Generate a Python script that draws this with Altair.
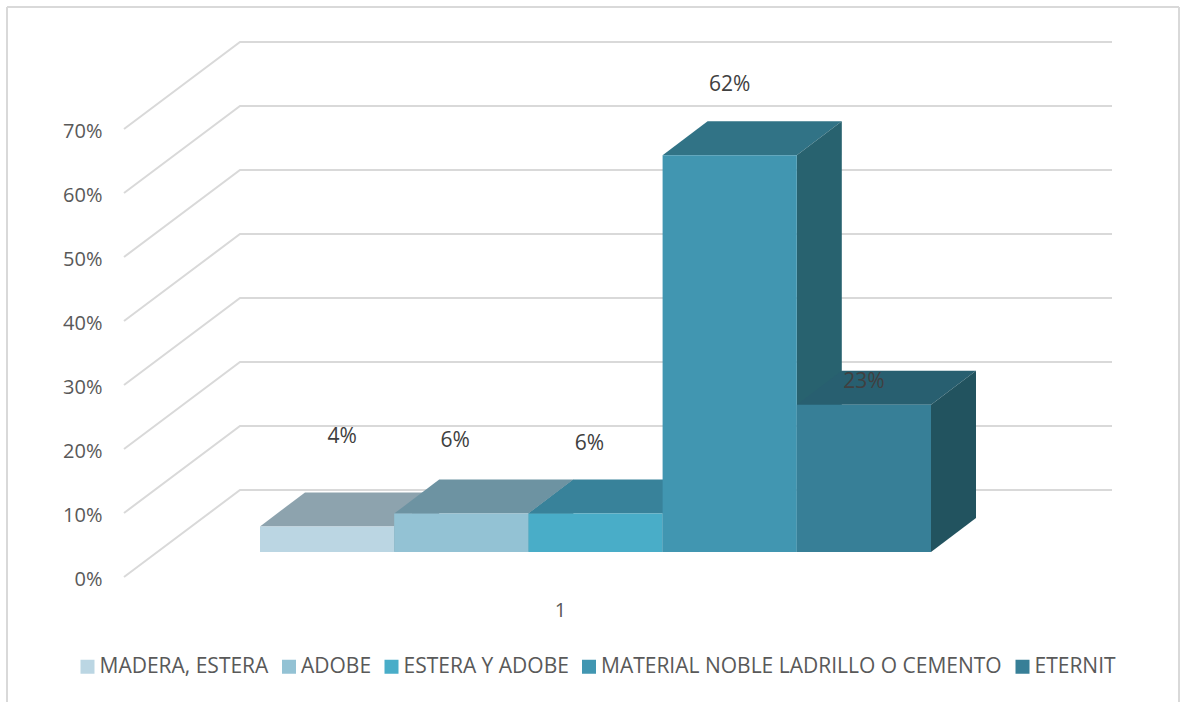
import altair as alt
import pandas as pd

# Chart content
MATERIALS = ["MADERA, ESTERA", "ADOBE", "ESTERA Y ADOBE",
             "MATERIAL NOBLE LADRILLO O CEMENTO", "ETERNIT"]
SHARES = [4, 6, 6, 62, 23]
TICKS = [0, 10, 20, 30, 40, 50, 60, 70]
CATEGORY_LABEL = "1"

# Face colours per series
FRONT = ["#bbd6e3", "#93c2d4", "#49adc8", "#4196b1", "#377f97"]
TOP = ["#8da3ae", "#6d93a2", "#38829a", "#317386", "#285f70"]
SIDE = ["#6f8a96", "#57808f", "#2f7086", "#28626f", "#22535f"]

# Layout of the pseudo 3D scene, in pixels of the plot area
WIDTH, HEIGHT = 1172, 695
PX_PER_UNIT = 6.4
ZERO_PX = 570
FONT = "Open Sans"
WALL_X0, WALL_X1, WALL_X2 = 117, 233, 1105
WALL_RISE = 87 / PX_PER_UNIT
BAR_X0, BAR_W = 253, 134.2
BAR_BASE = 25 / PX_PER_UNIT
DEPTH_X, DEPTH_Y = 45, 34 / PX_PER_UNIT
LABEL_SHIFT_X = [15, -6, -6, 0, 0]
LABEL_SHIFT_Y = [89, 73, 70, 70, 23]

x_scale = alt.Scale(domain=[0, WIDTH], range=[0, WIDTH], nice=False, zero=False)
y_scale = alt.Scale(
    domain=[(ZERO_PX - HEIGHT) / PX_PER_UNIT, ZERO_PX / PX_PER_UNIT],
    range=[HEIGHT, 0], nice=False, zero=False,
)


def face(rows, colour):
    return (
        alt.Chart(pd.DataFrame(rows))
        .mark_area(color=colour, opacity=1, interpolate="linear")
        .encode(
            x=alt.X("x:Q", scale=x_scale, title=None),
            y=alt.Y("y:Q", scale=y_scale, title=None),
            y2="y2:Q",
        )
    )


# Back wall and left wall lines, one polyline per axis tick
wall_rows = []
for t in TICKS:
    wall_rows += [
        {"tick": t, "x": WALL_X0, "y": t},
        {"tick": t, "x": WALL_X1, "y": t + WALL_RISE},
        {"tick": t, "x": WALL_X2, "y": t + WALL_RISE},
    ]

walls = (
    alt.Chart(pd.DataFrame(wall_rows))
    .mark_line(color="#d9d9d9", strokeWidth=2)
    .encode(
        x=alt.X("x:Q", scale=x_scale, title=None, axis=alt.Axis(
            values=[553], labelExpr=f"'{CATEGORY_LABEL}'", offset=-102,
            domain=False, ticks=False, grid=False, labelPadding=0,
            labelFont=FONT, labelFontSize=20, labelColor="#595959",
        )),
        y=alt.Y("y:Q", scale=y_scale, title=None, axis=alt.Axis(
            values=TICKS, labelExpr="datum.value + '%'", offset=-117,
            domain=False, ticks=False, grid=False, labelPadding=22, labelOffset=2,
            labelFont=FONT, labelFontSize=20, labelColor="#595959",
        )),
        detail="tick:N",
        order="x:Q",
    )
)

# Top and side faces, drawn left to right so later bars overlap earlier ones
faces = []
front_rows = []
label_rows = []
for i, (name, share) in enumerate(zip(MATERIALS, SHARES)):
    x0 = BAR_X0 + i * BAR_W
    x1 = x0 + BAR_W
    top = BAR_BASE + share
    faces.append(face([
        {"x": x0, "y": top, "y2": top},
        {"x": x0 + DEPTH_X, "y": top + DEPTH_Y, "y2": top},
        {"x": x1, "y": top + DEPTH_Y, "y2": top},
        {"x": x1 + DEPTH_X, "y": top + DEPTH_Y, "y2": top + DEPTH_Y},
    ], TOP[i]))
    faces.append(face([
        {"x": x1, "y": top, "y2": BAR_BASE},
        {"x": x1 + DEPTH_X, "y": top + DEPTH_Y, "y2": BAR_BASE + DEPTH_Y},
    ], SIDE[i]))
    front_rows.append({"material": name, "x": x0, "x2": x1, "y": top, "y2": BAR_BASE})
    label_rows.append({
        "x": (x0 + x1) / 2 + LABEL_SHIFT_X[i],
        "y": top + LABEL_SHIFT_Y[i] / PX_PER_UNIT,
        "label": f"{share}%",
    })

# Front faces carry the colour legend
fronts = (
    alt.Chart(pd.DataFrame(front_rows))
    .mark_rect(opacity=1)
    .encode(
        x=alt.X("x:Q", scale=x_scale, title=None),
        x2="x2:Q",
        y=alt.Y("y:Q", scale=y_scale, title=None),
        y2="y2:Q",
        color=alt.Color(
            "material:N",
            scale=alt.Scale(domain=MATERIALS, range=FRONT),
            legend=alt.Legend(
                orient="none", legendX=70, legendY=649, direction="horizontal",
                columns=5, title=None, padding=0, symbolType="square",
                symbolSize=196, symbolStrokeWidth=0, symbolOpacity=1,
                labelFont=FONT, labelFontSize=21, labelColor="#595959",
                labelOffset=1.5, columnPadding=9.5, labelLimit=500,
            ),
        ),
    )
)

labels = (
    alt.Chart(pd.DataFrame(label_rows))
    .mark_text(font=FONT, fontSize=21, color="#404040", align="center", baseline="middle")
    .encode(
        x=alt.X("x:Q", scale=x_scale, title=None),
        y=alt.Y("y:Q", scale=y_scale, title=None),
        text="label:N",
    )
)

# Outer frame: left, top and right edges only
frame = [
    alt.Chart(pd.DataFrame({"k": [0]})).mark_rule(color="#d9d9d9", strokeWidth=2)
    .encode(x=alt.value(xa), x2=alt.value(xb), y=alt.value(ya), y2=alt.value(yb))
    for xa, xb, ya, yb in [
        (0, 0, 0, HEIGHT),
        (0, WIDTH, 0, 0),
        (WIDTH, WIDTH, 0, HEIGHT),
    ]
]

chart = (
    alt.layer(walls, *faces, fronts, labels, *frame)
    .properties(
        width=WIDTH, height=HEIGHT,
        padding={"left": 7, "top": 7, "right": 1, "bottom": 0},
        autosize="none", background="white",
    )
    .configure_view(stroke=None)
)

chart.save("out.html", embed_options={"renderer": "svg", "actions": False})
